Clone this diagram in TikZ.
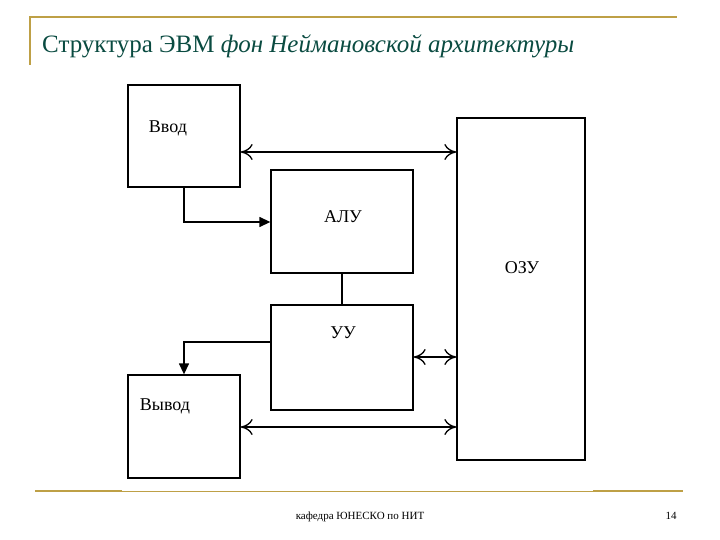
\documentclass[tikz,border=0pt]{standalone}
\usepackage{fontspec}
\setmainfont{Liberation Serif}
\usetikzlibrary{arrows.meta}
\definecolor{gold}{RGB}{190,160,70}
\definecolor{titlec}{RGB}{10,75,65}
\begin{document}
\begin{tikzpicture}[x=1pt,y=-1pt,
  blk/.style={draw,line width=1.3pt,inner sep=0pt},
  lbl/.style={font=\fontsize{18}{20}\selectfont,inner sep=0pt},
  con/.style={line width=1.3pt},
  dbl/.style={con,{To[length=12pt,width=16pt]}-{To[length=12pt,width=16pt]}},
  fil/.style={con,-{Triangle[length=11pt,width=10pt]}}]
\useasboundingbox (0,0) rectangle (720,540);
\draw[gold,line width=1.5pt] (30,65) -- (30,17) -- (677,17);
\node[anchor=base west,text=titlec,font=\fontsize{25}{28}\selectfont,inner sep=0pt] (t) at (42,53) {Структура ЭВМ \textit{фон Неймановской архитектуры}};
\draw[gold,line width=0.8pt] (35,491) -- (683,491);
\draw[gold,line width=2.5pt] (35,491) -- (122,491) (593,491) -- (683,491);
\node[font=\fontsize{11}{12}\selectfont,inner sep=0pt] (f) at (360,517) {кафедра ЮНЕСКО по НИТ};
\node[font=\fontsize{11}{12}\selectfont,inner sep=0pt] (p) at (671,516) {14};
\node[blk,minimum width=112pt,minimum height=102pt] (in) at (184,136) {};
\node[lbl] at (168,128) {Ввод};
\node[blk,minimum width=142pt,minimum height=103pt] (alu) at (342,221.5) {};
\node[lbl] at (343,217) {АЛУ};
\node[blk,minimum width=128pt,minimum height=342pt] (ram) at (521,289) {};
\node[lbl] at (522,268) {ОЗУ};
\node[blk,minimum width=142pt,minimum height=105pt] (cu) at (342,357.5) {};
\node[lbl] at (343,333) {УУ};
\node[blk,minimum width=112pt,minimum height=103pt] (out) at (184,426.5) {};
\node[lbl] at (165,406) {Вывод};
\draw[dbl] (in.east |- 0,152) -- (ram.west |- 0,152);
\draw[fil] (in.south) |- (alu.west |- 0,222);
\draw[con] (alu.south) -- (cu.north);
\draw[fil] (cu.west |- 0,342) -| (out.north);
\draw[dbl] (cu.east |- 0,357) -- (ram.west |- 0,357);
\draw[dbl] (out.east |- 0,427) -- (ram.west |- 0,427);
\end{tikzpicture}
\end{document}
